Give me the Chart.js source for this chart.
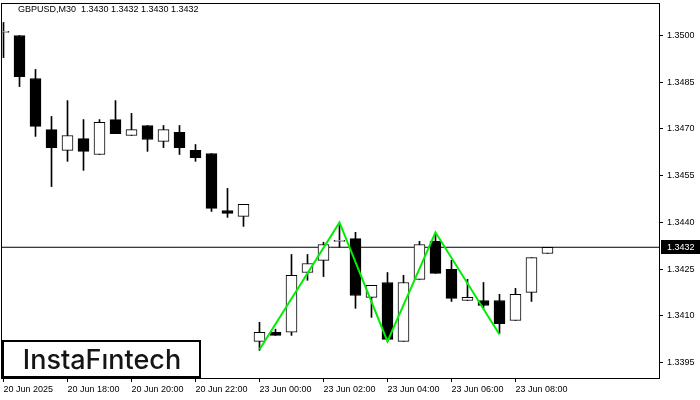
<!DOCTYPE html>
<html>
<head>
<meta charset="utf-8">
<script src="https://cdn.jsdelivr.net/npm/chart.js@4.4.1/dist/chart.umd.min.js"></script>
<style>
  html, body { margin: 0; padding: 0; background: #fff; }
</style>
</head>
<body>
<canvas id="chart" width="700" height="400"></canvas>
<script>
const symbol = 'GBPUSD';
const period = 'M30';

// one entry per 30 minute bar, 20 Jun 16:00 .. 23 Jun 09:00
const open  = [1.35010, 1.35000, 1.34862, 1.34698, 1.34631, 1.34669, 1.34618, 1.34730, 1.34679, 1.34711,
               1.34660, 1.34689, 1.34631, 1.34621, 1.34438, 1.34419, 1.34018, 1.34047, 1.34047, 1.34239,
               1.34278, 1.34339, 1.34348, 1.34159, 1.34207, 1.34018, 1.34217, 1.34339, 1.34249, 1.34149,
               1.34149, 1.34149, 1.34085, 1.34175, 1.34300];
const high  = [1.35042, 1.35000, 1.34891, 1.34740, 1.34791, 1.34730, 1.34730, 1.34791, 1.34750, 1.34711,
               1.34711, 1.34711, 1.34650, 1.34621, 1.34509, 1.34458, 1.34079, 1.34057, 1.34297, 1.34297,
               1.34336, 1.34397, 1.34368, 1.34198, 1.34239, 1.34230, 1.34339, 1.34365, 1.34278, 1.34217,
               1.34207, 1.34169, 1.34188, 1.34287, 1.34320];
const low   = [1.34929, 1.34836, 1.34676, 1.34515, 1.34596, 1.34567, 1.34618, 1.34685, 1.34679, 1.34628,
               1.34640, 1.34618, 1.34596, 1.34435, 1.34416, 1.34387, 1.33989, 1.34037, 1.34037, 1.34214,
               1.34226, 1.34320, 1.34124, 1.34095, 1.34018, 1.34018, 1.34217, 1.34236, 1.34146, 1.34149,
               1.34124, 1.34043, 1.34085, 1.34146, 1.34300];
const close = [1.35010, 1.34868, 1.34708, 1.34640, 1.34679, 1.34628, 1.34721, 1.34685, 1.34698, 1.34666,
               1.34698, 1.34640, 1.34608, 1.34445, 1.34429, 1.34458, 1.34047, 1.34037, 1.34230, 1.34268,
               1.34329, 1.34339, 1.34165, 1.34198, 1.34024, 1.34207, 1.34329, 1.34236, 1.34156, 1.34159,
               1.34133, 1.34075, 1.34169, 1.34287, 1.34320];

const xTickBars   = [0, 4, 8, 12, 16, 20, 24, 28, 32];
const xTickLabels = ['20 Jun 2025', '20 Jun 18:00', '20 Jun 20:00', '20 Jun 22:00', '23 Jun 00:00',
                     '23 Jun 02:00', '23 Jun 04:00', '23 Jun 06:00', '23 Jun 08:00'];
const yTicks = [1.3395, 1.3410, 1.3425, 1.3440, 1.3455, 1.3470, 1.3485, 1.3500];

// double top pattern (green zigzag)
const patternBars   = [16, 21, 24, 27, 31];
const patternPrices = [1.33992, 1.34400, 1.34018, 1.34368, 1.34040];

const last = close.length - 1;
const lastPrice = close[last];

const tickFont = { family: 'Liberation Sans', size: 9 };

const mtPlugin = {
  id: 'mtDecor',
  afterDraw(chart) {
    const ctx = chart.ctx;
    const yScale = chart.scales.y;
    ctx.save();
    // frame
    ctx.strokeStyle = '#000';
    ctx.lineWidth = 1;
    ctx.strokeRect(1.5, 3.5, 658, 375);

    // header text
    ctx.fillStyle = '#000';
    ctx.font = '9px "Liberation Sans"';
    ctx.textBaseline = 'middle';
    ctx.textAlign = 'left';
    const hdr = symbol + ',' + period + '  ' +
      [open[last], high[last], low[last], close[last]].map(v => v.toFixed(4)).join(' ');
    ctx.fillText(hdr, 18, 10);

    // current price label
    const py = Math.round(yScale.getPixelForValue(lastPrice));
    ctx.fillStyle = '#000';
    ctx.fillRect(661, py - 7, 39, 14);
    ctx.fillStyle = '#fff';
    ctx.fillText(lastPrice.toFixed(4), 667, py + 0.5);

    // logo
    ctx.fillStyle = '#fff';
    ctx.fillRect(3, 341, 197, 36);
    ctx.lineWidth = 2;
    ctx.strokeStyle = '#000';
    ctx.strokeRect(3, 341, 197, 36);
    ctx.fillStyle = '#151515';
    ctx.font = '500 27px Inter';
    ctx.textAlign = 'center';
    ctx.textBaseline = 'alphabetic';
    ctx.fillText('InstaF\u0131ntech', 102, 369);
    ctx.restore();
  }
};

new Chart(document.getElementById('chart'), {
  data: {
    datasets: [
      {
        type: 'line',
        data: patternBars.map((b, i) => ({ x: b, y: patternPrices[i] })),
        borderColor: '#00ee00',
        borderWidth: 2,
        pointRadius: 0,
        order: 0
      },
      {
        type: 'bar',
        data: open.map((o, i) => ({ x: i, y: [Math.min(o, close[i]), Math.max(o, close[i])] })),
        backgroundColor: open.map((o, i) => close[i] >= o ? '#fff' : '#000'),
        borderColor: '#000',
        borderWidth: 1,
        borderSkipped: false,
        barThickness: 11,
        minBarLength: 1,
        grouped: false,
        order: 1
      },
      {
        type: 'bar',
        data: low.map((l, i) => ({ x: i, y: [l, high[i]] })),
        backgroundColor: '#000',
        barThickness: 1,
        grouped: false,
        order: 2
      },
      {
        type: 'line',
        data: [{ x: -1, y: lastPrice }, { x: 42, y: lastPrice }],
        borderColor: '#000',
        borderWidth: 1,
        pointRadius: 0,
        order: 3
      }
    ]
  },
  options: {
    responsive: false,
    animation: false,
    layout: { padding: { left: 2, top: 4, right: 0, bottom: 0 } },
    plugins: { legend: { display: false }, tooltip: { enabled: false } },
    scales: {
      x: {
        type: 'linear',
        offset: false,
        min: -0.09375,
        max: 40.97,
        afterBuildTicks: s => { s.ticks = xTickBars.map(v => ({ value: v })); },
        afterFit: s => { s.height = 22; s.paddingLeft = 0; s.paddingRight = 0; },
        border: { display: false },
        grid: { offset: false, drawOnChartArea: false, drawTicks: true, tickLength: 4, color: '#000' },
        ticks: {
          callback: v => xTickLabels[xTickBars.indexOf(v)],
          align: 'start',
          maxRotation: 0,
          autoSkip: false,
          padding: 2,
          color: '#000',
          font: tickFont
        }
      },
      y: {
        position: 'right',
        min: 1.3390023,
        max: 1.3510115,
        afterBuildTicks: s => { s.ticks = yTicks.map(v => ({ value: v })); },
        afterFit: s => { s.width = 41; s.paddingTop = 0; s.paddingBottom = 0; },
        border: { display: false },
        grid: { drawOnChartArea: false, drawTicks: true, tickLength: 4, color: '#000' },
        ticks: {
          callback: v => v.toFixed(4),
          padding: 4,
          color: '#000',
          font: tickFont
        }
      }
    }
  },
  plugins: [mtPlugin]
});
</script>
</body>
</html>
